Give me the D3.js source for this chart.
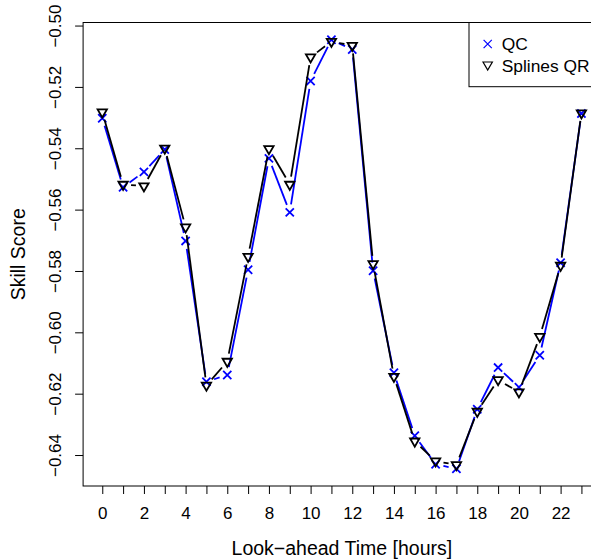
<!DOCTYPE html>
<html>
<head>
<meta charset="utf-8">
<script src="https://cdn.jsdelivr.net/npm/d3@7"></script>
<style>
  body { margin: 0; background: #fff; }
  svg { display: block; font-family: "Liberation Sans", Arial, Helvetica, sans-serif; }
</style>
</head>
<body>
<svg id="chart" width="591" height="560"></svg>
<script>
// look-ahead hours
var hours = [0, 1, 2, 3, 4, 5, 6, 7, 8, 9, 10, 11, 12, 13, 14, 15, 16, 17, 18, 19, 20, 21, 22, 23];
// skill scores
var qcScore = [-0.5302, -0.5527, -0.5477, -0.5404, -0.5702, -0.6161, -0.6139, -0.5796,
               -0.5433, -0.5609, -0.5181, -0.5046, -0.5078, -0.5799, -0.6132, -0.6337,
               -0.6430, -0.6445, -0.6251, -0.6115, -0.6179, -0.6075, -0.5773, -0.5287];
var splinesScore = [-0.5282, -0.5518, -0.5523, -0.5400, -0.5657, -0.6173, -0.6095, -0.5753,
                    -0.5402, -0.5518, -0.5103, -0.5052, -0.5065, -0.5777, -0.6144, -0.6355,
                    -0.6420, -0.6432, -0.6258, -0.6155, -0.6195, -0.6014, -0.5782, -0.5285];
var yTicks = [-0.64, -0.62, -0.60, -0.58, -0.56, -0.54, -0.52, -0.50];
var seriesNames = ['QC', 'Splines QR'];
var seriesColors = ['#0000ff', '#000000'];

var svg = d3.select('#chart');
var plotL = 83.1, plotR = 600.6, plotT = 22.5, plotB = 486;
var gap = 8, tickLen = 8;

// R style: pad the data range by 4% on each side
function padded(ext){
	var d = (ext[1] - ext[0]) * 0.04;
	return [ext[0] - d, ext[1] + d];
}

var x = d3.scaleLinear().domain(padded(d3.extent(hours))).range([plotL, plotR]);
var y = d3.scaleLinear().domain(padded(d3.extent(qcScore.concat(splinesScore)))).range([plotB, plotT]);

// box round the plot (right side falls outside the picture)
svg.append('rect')
	.attr('x', plotL).attr('y', plotT)
	.attr('width', plotR - plotL).attr('height', plotB - plotT)
	.attr('fill', 'none').attr('stroke', '#000').attr('stroke-width', 1);

// x axis
var gx = svg.append('g').attr('transform', 'translate(0,' + plotB + ')')
	.call(d3.axisBottom(x).tickValues(hours).tickSize(tickLen)
		.tickFormat(function(d){ return d % 2 === 0 ? d : ''; }));
gx.select('.domain').remove();
gx.selectAll('.tick line').attr('stroke', '#000');
gx.selectAll('.tick text').attr('y', 33).attr('dy', 0)
	.attr('font-size', 17).attr('fill', '#000').attr('font-family', null);

// y axis, labels turned like R does
var gy = svg.append('g').attr('transform', 'translate(' + plotL + ',0)')
	.call(d3.axisLeft(y).tickValues(yTicks).tickSize(tickLen)
		.tickFormat(function(d){ return d3.format('.2f')(d).replace('-', '\u2212'); }));
gy.select('.domain').remove();
gy.selectAll('.tick line').attr('stroke', '#000');
gy.selectAll('.tick text')
	.attr('x', 0).attr('dy', 0)
	.attr('text-anchor', 'middle')
	.attr('transform', 'translate(-22,0) rotate(-90)')
	.attr('font-size', 17).attr('fill', '#000').attr('font-family', null);

// axis titles
svg.append('text')
	.attr('x', (plotL + plotR) / 2).attr('y', 555)
	.attr('text-anchor', 'middle').attr('font-size', 19.5)
	.text('Look\u2212ahead Time [hours]');
svg.append('text')
	.attr('transform', 'translate(25,' + ((plotT + plotB) / 2) + ') rotate(-90)')
	.attr('text-anchor', 'middle').attr('font-size', 19.5)
	.text('Skill Score');

// lines with gaps round the points (type = "b")
function gappedSegments(vals){
	var pts = hours.map(function(h, i){ return [x(h), y(vals[i])]; });
	var segs = [];
	for (var i = 0; i < pts.length - 1; i++){
		var dx = pts[i+1][0] - pts[i][0], dy = pts[i+1][1] - pts[i][1];
		var len = Math.sqrt(dx*dx + dy*dy);
		if (len <= 2 * gap) continue;
		var ux = dx / len, uy = dy / len;
		segs.push([pts[i][0] + ux*gap, pts[i][1] + uy*gap, pts[i+1][0] - ux*gap, pts[i+1][1] - uy*gap]);
	}
	return segs;
}

function crossPath(cx, cy, r){
	return 'M' + (cx-r) + ',' + (cy-r) + 'L' + (cx+r) + ',' + (cy+r) +
		'M' + (cx-r) + ',' + (cy+r) + 'L' + (cx+r) + ',' + (cy-r);
}
function triPath(cx, cy, r){
	var w = r * Math.sqrt(3) / 2;
	return 'M' + (cx-w) + ',' + (cy - r/2) + 'L' + (cx+w) + ',' + (cy - r/2) + 'L' + cx + ',' + (cy + r) + 'Z';
}

function drawSeries(vals, color, shape){
	var g = svg.append('g');
	g.selectAll('line').data(gappedSegments(vals)).enter().append('line')
		.attr('x1', function(d){ return d[0]; }).attr('y1', function(d){ return d[1]; })
		.attr('x2', function(d){ return d[2]; }).attr('y2', function(d){ return d[3]; })
		.attr('stroke', color).attr('stroke-width', 1.8);
	g.selectAll('path').data(vals).enter().append('path')
		.attr('d', function(d, i){ return shape === 'cross' ? crossPath(x(hours[i]), y(d), 4.1) : triPath(x(hours[i]), y(d), 5.4); })
		.attr('fill', 'none').attr('stroke', color).attr('stroke-width', 1.8);
}

drawSeries(qcScore, seriesColors[0], 'cross');
drawSeries(splinesScore, seriesColors[1], 'tri');

// legend (topright)
var lg = svg.append('g');
lg.append('rect')
	.attr('x', 469).attr('y', plotT).attr('width', plotR - 469).attr('height', 64.2)
	.attr('fill', '#fff').attr('stroke', '#000').attr('stroke-width', 1);
var rows = [44, 66];
lg.append('path').attr('d', crossPath(487.7, rows[0], 4.1))
	.attr('fill', 'none').attr('stroke', seriesColors[0]).attr('stroke-width', 1.2);
lg.append('path').attr('d', triPath(487.7, rows[1] - 1.3, 5.4))
	.attr('fill', 'none').attr('stroke', seriesColors[1]).attr('stroke-width', 1.2);
lg.selectAll('text').data(seriesNames).enter().append('text')
	.attr('x', 501.7).attr('y', function(d, i){ return rows[i] + 6; })
	.attr('font-size', 17.4)
	.text(function(d){ return d; });
</script>
</body>
</html>
